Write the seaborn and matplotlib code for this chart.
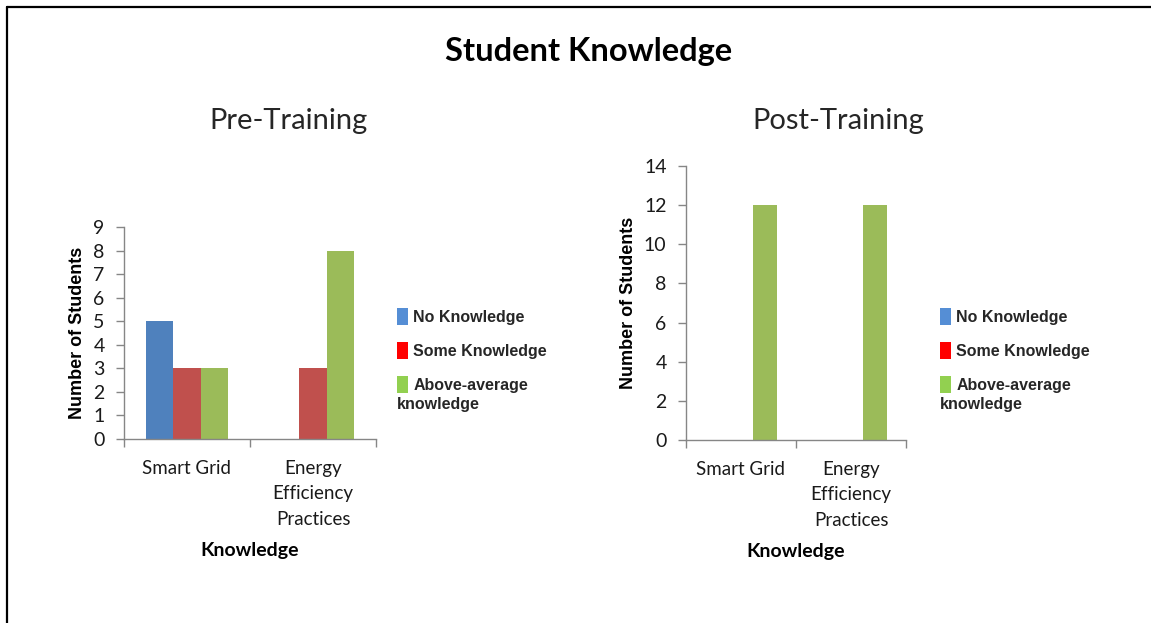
import numpy as np
import pandas as pd
import matplotlib.pyplot as plt
import seaborn as sns
from matplotlib.patches import Patch
from matplotlib.lines import Line2D
from matplotlib.ticker import FixedLocator, MultipleLocator

sns.set_style('white')
plt.rcParams['font.family'] = ['Lato', 'DejaVu Sans']

topics = ['Smart Grid', 'Energy\nEfficiency\nPractices']
levels = ['No Knowledge', 'Some Knowledge', 'Above-average knowledge']

# pre-training counts
pre_none = [5, 0]
pre_some = [3, 3]
pre_above = [3, 8]

# post-training counts
post_none = [0, 0]
post_some = [0, 0]
post_above = [12, 12]

bar_colors = ['#4F81BD', '#C0504D', '#9BBB59']
key_colors = ['#558ED5', '#FF0000', '#92D050']
axis_grey = '#868686'

W, H = 1151, 623


def long_table(none, some, above):
    return pd.DataFrame({'topic': topics * 3,
                         'level': np.repeat(levels, len(topics)),
                         'count': none + some + above})


def px(x0, y0, x1, y1):
    # pixel box -> figure fraction rect
    return [x0 / W, 1 - y1 / H, (x1 - x0) / W, (y1 - y0) / H]


fig = plt.figure(figsize=(W / 100, H / 100), dpi=100)
ax1 = fig.add_axes(px(124, 227, 376, 439))
ax2 = fig.add_axes(px(686, 166, 906, 440))

panels = [(ax1, long_table(pre_none, pre_some, pre_above), 9, 1),
          (ax2, long_table(post_none, post_some, post_above), 14, 2)]

for ax, df, top, step in panels:
    sns.barplot(data=df, x='topic', y='count', hue='level', order=topics,
                hue_order=levels, palette=bar_colors, saturation=1,
                width=0.655, linewidth=0, legend=False, ax=ax)
    ax.set_xlim(-0.5, 1.5)
    ax.set_ylim(0, top)
    ax.yaxis.set_major_locator(MultipleLocator(step))
    ax.xaxis.set_minor_locator(FixedLocator([-0.5, 0.5, 1.5]))
    for side in ['top', 'right']:
        ax.spines[side].set_visible(False)
    for side in ['left', 'bottom']:
        ax.spines[side].set_color(axis_grey)
        ax.spines[side].set_linewidth(1)
    ax.tick_params(axis='y', which='major', direction='out', length=6,
                   width=1, color=axis_grey, pad=8, labelsize=14,
                   labelcolor='#1a1a1a', left=True)
    ax.tick_params(axis='x', which='major', length=0, pad=15,
                   labelsize=13.5, labelcolor='#1a1a1a')
    ax.tick_params(axis='x', which='minor', direction='out', length=6,
                   width=1, color=axis_grey, bottom=True)
    for lab in ax.get_xticklabels():
        lab.set_linespacing(1.6)
    ax.set_xlabel('Knowledge', fontsize=14, fontweight='bold',
                  color='black', labelpad=10)
    ax.set_ylabel('Number of Students', fontsize=13, fontweight='bold',
                  family='Liberation Sans', color='black', labelpad=5)

    # legend uses the brighter key colours of the original
    handles = [Patch(facecolor=c, edgecolor='none') for c in key_colors]
    leg_x = 397 if ax is ax1 else 940
    ax.legend(handles, ['No Knowledge', 'Some Knowledge', 'Above-average'],
              loc='upper left', bbox_to_anchor=(leg_x / W, 1 - 308 / H),
              bbox_transform=fig.transFigure, frameon=False, borderpad=0,
              borderaxespad=0, handlelength=0.68, handleheight=1.25,
              handletextpad=0.35, labelspacing=1.07,
              prop={'family': 'Liberation Sans', 'weight': 'bold',
                    'size': 11.5})
    fig.text(leg_x / W, 1 - 404 / H, 'knowledge', ha='left', va='center',
             family='Liberation Sans', fontweight='bold', fontsize=11.5)

fig.text(589 / W, 1 - 52 / H, 'Student Knowledge', ha='center',
         va='center', fontsize=23.5, fontweight='bold', color='black')
fig.text(288 / W, 1 - 121 / H, 'Pre-Training', ha='center', va='center',
         fontsize=21)
fig.text(838 / W, 1 - 121 / H, 'Post-Training', ha='center', va='center',
         fontsize=21)

# frame lines along top and left edge of the slide
fig.add_artist(Line2D([6.5 / W, 1], [1 - 6.5 / H, 1 - 6.5 / H],
                      transform=fig.transFigure, color='black', lw=1.6))
fig.add_artist(Line2D([6.5 / W, 6.5 / W], [0, 1 - 6.5 / H],
                      transform=fig.transFigure, color='black', lw=1.6))

fig.savefig('out.png', dpi=100, facecolor='white')
